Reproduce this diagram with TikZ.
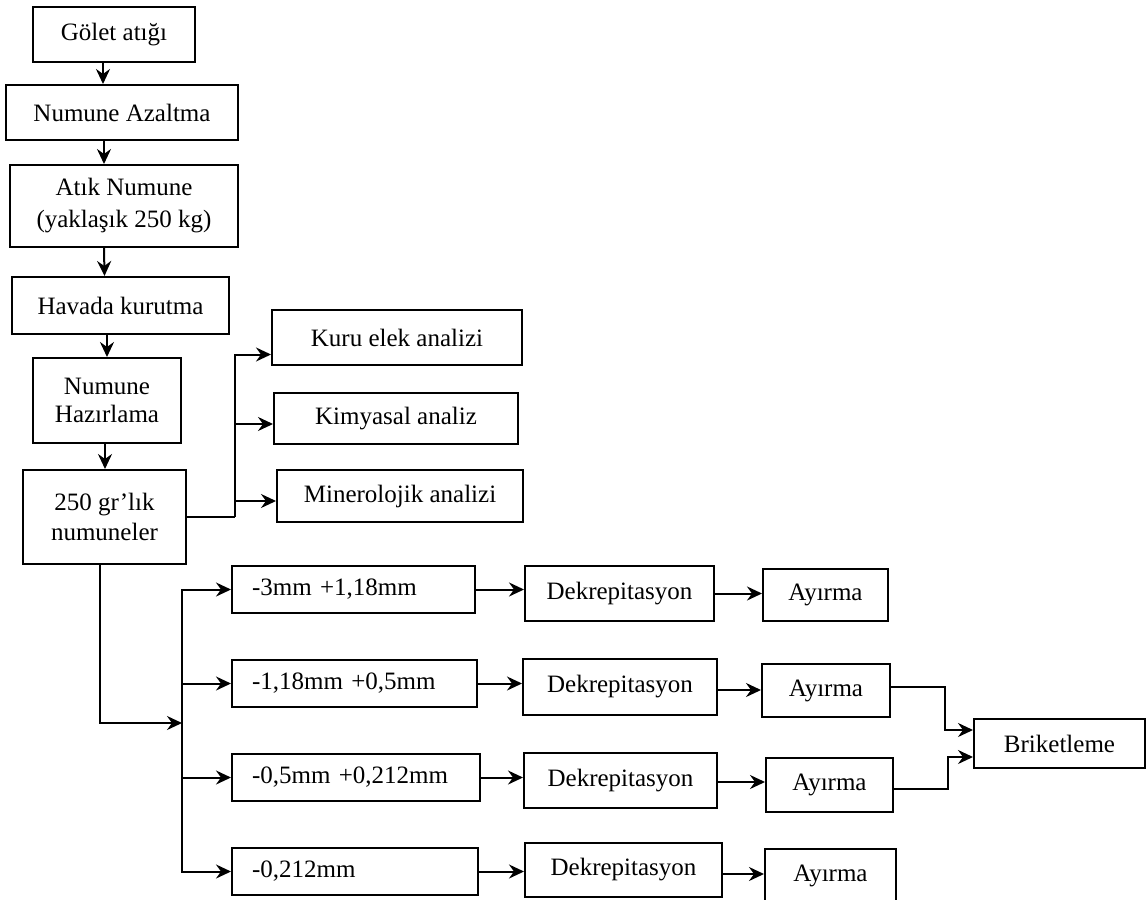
\documentclass[tikz,border=0pt]{standalone}
\usepackage{fontspec}
\setmainfont{Liberation Serif}
\usetikzlibrary{arrows.meta,calc}
\begin{document}
\begin{tikzpicture}[x=1pt,y=-1pt,
  box/.style={draw,line width=2pt,inner sep=0pt,font=\fontsize{25}{30}\selectfont,align=center},
  rowbox/.style={box,align=left,inner xsep=20pt,inner ysep=0pt},
  arr/.style={line width=2pt,-{Stealth[length=15pt,width=14pt,inset=5pt]}},
  ln/.style={line width=2pt}]
\useasboundingbox (0,0) rectangle (1147,899);
\clip (0,0) rectangle (1147,899);
% left column
\node[box,minimum width=162pt,minimum height=55pt] (golet) at (114,34.5) {Gölet atığı};
\node[box,minimum width=232pt,minimum height=55pt] (azalt) at (122,112.5) {Numune Azaltma};
\node[box,minimum width=228pt,minimum height=82pt,font=\fontsize{25}{32}\selectfont] (atik) at (124,206) {Atık Numune\\(yaklaşık 250 kg)};
\node[box,minimum width=217pt,minimum height=57pt] (havada) at (120.5,305.5) {Havada kurutma};
\node[box,minimum width=148pt,minimum height=85pt,font=\fontsize{25}{28}\selectfont] (hazir) at (107,400.5) {Numune\\Hazırlama};
\node[box,minimum width=163pt,minimum height=94pt] (gr) at (104.5,517) {250 gr’lık\\numuneler};
% analyses
\node[box,minimum width=250pt,minimum height=55pt] (kuru) at (397,337.5) {Kuru elek analizi};
\node[box,minimum width=244pt,minimum height=51pt] (kimya) at (396,418.5) {Kimyasal analiz};
\node[box,minimum width=246pt,minimum height=52pt] (miner) at (400,496) {Minerolojik analizi};
% size fractions
\node[rowbox,text width=203pt,minimum height=47pt] (r1) at (353.5,589.5) {-3mm +1,18mm};
\node[rowbox,text width=205pt,minimum height=47pt] (r2) at (354.5,683.5) {-1,18mm +0,5mm};
\node[rowbox,text width=208pt,minimum height=47pt] (r3) at (356,777.5) {-0,5mm +0,212mm};
\node[rowbox,text width=206pt,minimum height=47pt] (r4) at (355,871.5) {-0,212mm};
% dekrepitasyon
\node[box,minimum width=189pt,minimum height=55pt] (d1) at (619.5,593.5) {Dekrepitasyon};
\node[box,minimum width=194pt,minimum height=56pt] (d2) at (620,687) {Dekrepitasyon};
\node[box,minimum width=193pt,minimum height=55pt] (d3) at (620.5,780.5) {Dekrepitasyon};
\node[box,minimum width=197pt,minimum height=54pt] (d4) at (623.5,870) {Dekrepitasyon};
% ayirma
\node[box,minimum width=125pt,minimum height=52pt] (a1) at (825.5,595) {Ayırma};
\node[box,minimum width=128pt,minimum height=53pt] (a2) at (826,690.5) {Ayırma};
\node[box,minimum width=127pt,minimum height=54pt] (a3) at (829.5,785) {Ayırma};
\node[box,minimum width=131pt,minimum height=54pt] (a4) at (830.5,876) {Ayırma};
% briketleme
\node[box,minimum width=171pt,minimum height=49pt] (brik) at (1059.5,743.5) {Briketleme};
% vertical chain
\draw[arr] ([xshift=-11pt]golet.south) -- ([xshift=-19pt]azalt.north);
\draw[arr] ([xshift=-18pt]azalt.south) -- ([xshift=-20pt]atik.north);
\draw[arr] ([xshift=-20pt]atik.south) -- ([xshift=-16pt]havada.north);
\draw[arr] ([xshift=-13.5pt]havada.south) -- ([xshift=0pt]hazir.north);
\draw[arr] ([xshift=-2pt]hazir.south) -- ([xshift=0.5pt]gr.north);
% analyses branch
\coordinate (b1) at (235,517);
\draw[ln] (gr.east) -- (b1);
\draw[arr] (b1) |- ([yshift=-17pt]kuru.west);
\draw[arr] (b1) |- ([yshift=-5.5pt]kimya.west);
\draw[arr] (b1) |- ([yshift=-5pt]miner.west);
% fractions branch
\coordinate (b2) at (182,723);
\draw[arr] ([xshift=-4.5pt]gr.south) |- (b2);
\draw[arr] (b2) |- (r1.west);
\draw[arr] (b2) |- (r2.west);
\draw[arr] (b2) |- (r3.west);
\draw[arr] (b2) |- (r4.west);
% rows
\draw[arr] (r1.east) -- (r1.east -| d1.west);
\draw[arr] (r2.east) -- (r2.east -| d2.west);
\draw[arr] (r3.east) -- (r3.east -| d3.west);
\draw[arr] (r4.east) -- (r4.east -| d4.west);
\coordinate (d2o) at ([yshift=-3pt]d2.east);
\coordinate (d3o) at ([yshift=-1.5pt]d3.east);
\coordinate (d4o) at ([yshift=-4pt]d4.east);
\draw[arr] (d1.east) -- (d1.east -| a1.west);
\draw[arr] (d2o) -- (d2o -| a2.west);
\draw[arr] (d3o) -- (d3o -| a3.west);
\draw[arr] (d4o) -- (d4o -| a4.west);
% to briketleme
\coordinate (a2o) at ([yshift=3.5pt]a2.east);
\coordinate (a3o) at ([yshift=-4pt]a3.east);
\coordinate (bin1) at ([yshift=13.5pt]brik.west);
\coordinate (bin2) at ([yshift=-13.5pt]brik.west);
\draw[arr] (a2o) -| ([xshift=-28pt]bin1) -- (bin1);
\draw[arr] (a3o) -| ([xshift=-25pt]bin2) -- (bin2);
\end{tikzpicture}
\end{document}
